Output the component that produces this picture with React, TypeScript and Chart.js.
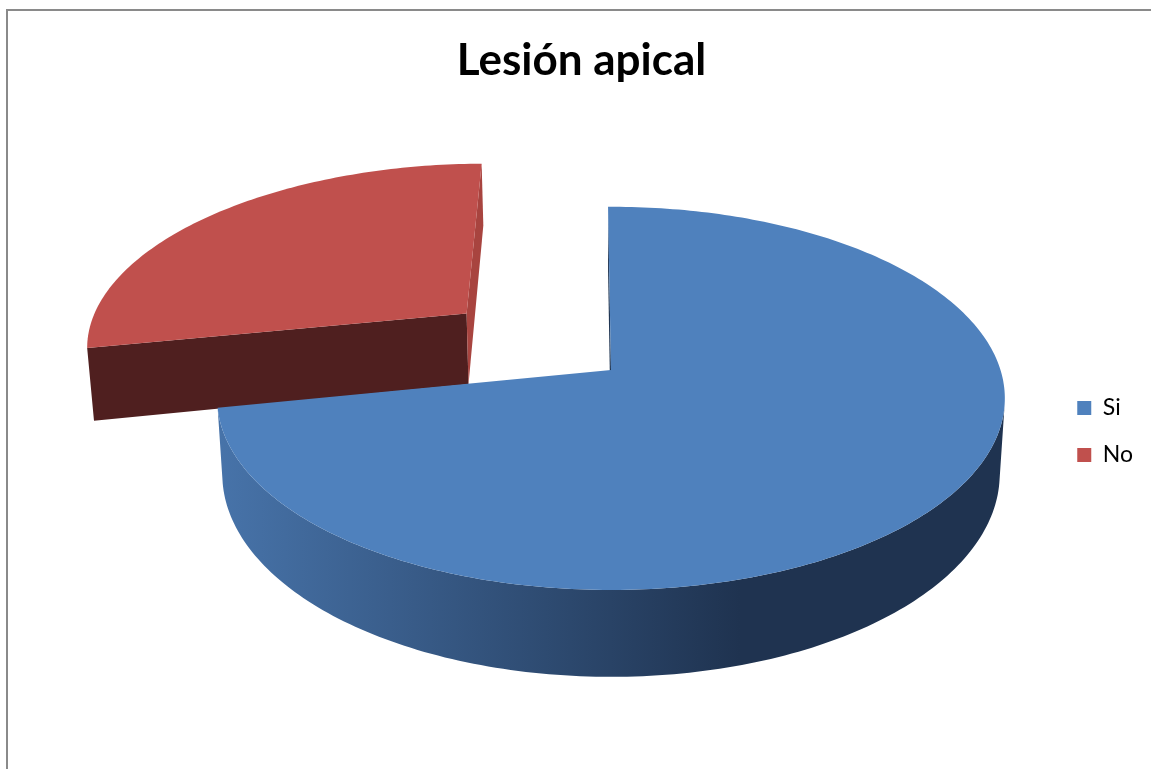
import { useEffect, useRef } from "react";
import { Chart, registerables } from "chart.js";

Chart.register(...registerables);

// Data
const categories = ["Si", "No"];
const counts = [72, 28];
// How far each slice is pulled out from the centre, as a fraction of the radius
const explode = [0, 0.5];
const titleText = "Lesión apical";

// Colours
const faceColors = ["#4f81bd", "#c0504d"];
const sideStops = [
  ["#4773a9", "#1f3350"],
  ["#9a3f3c", "#4f1f1f"],
];
const wallStartColors = ["#1f3552", "#4f1f1f"];
const wallEndColors = ["#1f3552", "#a8443f"];

const FONT = "Lato, 'Open Sans', 'Noto Sans', sans-serif";

// 3-D view of the pie disk: centre, radii, perspective, thickness
const VIEW = {
  cx: 611,
  cy: 370,
  rx: 389.5,
  ry: 187.4,
  persp: 0.148,
  depth: 74,
  taper: 0.013,
  sideX0: 220,
  sideX1: 740,
};

type Pt = [number, number];

// u: right, w: towards the viewer (both in radius units), z: 0 = top, 1 = bottom
function project(u: number, w: number, z: number): Pt {
  const s = 1 / (1 - VIEW.persp * w);
  const x = VIEW.cx + VIEW.rx * u * s * (1 - VIEW.taper * z);
  const y = VIEW.cy + VIEW.ry * w * s + VIEW.depth * z * s;
  return [x, y];
}

function signedArea(pts: Pt[]): number {
  let a = 0;
  for (let i = 0; i < pts.length; i++) {
    const [x1, y1] = pts[i];
    const [x2, y2] = pts[(i + 1) % pts.length];
    a += x1 * y2 - x2 * y1;
  }
  return a / 2;
}

function fillPoly(ctx: CanvasRenderingContext2D, pts: Pt[], style: string | CanvasGradient) {
  ctx.beginPath();
  ctx.moveTo(pts[0][0], pts[0][1]);
  for (let i = 1; i < pts.length; i++) ctx.lineTo(pts[i][0], pts[i][1]);
  ctx.closePath();
  ctx.fillStyle = style;
  ctx.fill();
}

interface Slice {
  i: number;
  a1: number;
  a2: number;
  ox: number;
  ow: number;
}

function drawSlice(ctx: CanvasRenderingContext2D, s: Slice) {
  const { i, a1, a2, ox, ow } = s;
  const rim = (a: number, z: number) => project(ox + Math.cos(a), ow + Math.sin(a), z);
  const ctr = (z: number) => project(ox, ow, z);

  // flat walls along the two straight edges
  const w1: Pt[] = [ctr(0), rim(a1, 0), rim(a1, 1), ctr(1)];
  if (signedArea(w1) < 0) fillPoly(ctx, w1, wallStartColors[i]);
  const w2: Pt[] = [rim(a2, 0), ctr(0), ctr(1), rim(a2, 1)];
  if (signedArea(w2) < 0) fillPoly(ctx, w2, wallEndColors[i]);

  // curved outer wall: only the parts facing the viewer
  const steps = Math.max(8, Math.ceil(((a2 - a1) * 180) / Math.PI));
  const angles: number[] = [];
  for (let k = 0; k <= steps; k++) angles.push(a1 + ((a2 - a1) * k) / steps);
  const grad = ctx.createLinearGradient(VIEW.sideX0, 0, VIEW.sideX1, 0);
  grad.addColorStop(0, sideStops[i][0]);
  grad.addColorStop(1, sideStops[i][1]);
  let run: number[] = [];
  const flush = () => {
    if (run.length >= 2) {
      const pts: Pt[] = [];
      for (const a of run) pts.push(rim(a, 0));
      for (let k = run.length - 1; k >= 0; k--) pts.push(rim(run[k], 1));
      fillPoly(ctx, pts, grad);
    }
    run = [];
  };
  for (let k = 0; k < steps; k++) {
    const a = angles[k];
    const b = angles[k + 1];
    const quad: Pt[] = [rim(a, 0), rim(b, 0), rim(b, 1), rim(a, 1)];
    if (signedArea(quad) < 0) {
      if (run.length === 0) run.push(a);
      run.push(b);
    } else {
      flush();
    }
  }
  flush();

  // top face
  const top: Pt[] = [ctr(0)];
  for (const a of angles) top.push(rim(a, 0));
  fillPoly(ctx, top, faceColors[i]);
}

const pie3d = {
  id: "pie3d",
  beforeDatasetsDraw(chart: Chart) {
    const meta = chart.getDatasetMeta(0);
    const ctx = chart.ctx;
    const slices: Slice[] = [];
    meta.data.forEach((el: any, i: number) => {
      if (!chart.getDataVisibility(i)) return;
      const { startAngle, endAngle } = el.getProps(["startAngle", "endAngle"], true);
      if (endAngle <= startAngle) return;
      const mid = (startAngle + endAngle) / 2;
      const e = explode[i] || 0;
      slices.push({ i, a1: startAngle, a2: endAngle, ox: e * Math.cos(mid), ow: e * Math.sin(mid) });
    });
    // paint from the back of the scene to the front
    slices.sort((p, q) => p.ow - q.ow);
    ctx.save();
    for (const s of slices) drawSlice(ctx, s);
    ctx.restore();
    return false;
  },
};

export default function App() {
  const ref = useRef<HTMLCanvasElement>(null);

  useEffect(() => {
    if (!ref.current) return;
    const chart = new Chart(ref.current, {
      type: "pie",
      data: {
        labels: categories,
        datasets: [
          {
            data: counts,
            backgroundColor: faceColors,
            borderWidth: 0,
          },
        ],
      },
      options: {
        animation: false,
        responsive: true,
        maintainAspectRatio: false,
        rotation: -0.5,
        layout: { padding: { top: 0, right: 8, bottom: 0, left: 20 } },
        plugins: {
          title: {
            display: true,
            text: titleText,
            color: "#000",
            font: { family: FONT, size: 44, weight: "bold" },
            padding: { top: 34, bottom: 7 },
          },
          legend: {
            position: "right",
            fullSize: false,
            labels: {
              color: "#000",
              font: { family: FONT, size: 23 },
              boxWidth: 14,
              boxHeight: 14,
              padding: 24,
            },
          },
          tooltip: { enabled: false },
        },
      },
      plugins: [pie3d],
    });
    return () => chart.destroy();
  }, []);

  return (
    <div
      style={{
        position: "absolute",
        left: 0,
        top: 0,
        width: 1151,
        height: 769,
        overflow: "hidden",
        background: "#fff",
      }}
    >
      <div
        style={{
          position: "absolute",
          left: 6,
          top: 9,
          width: 1200,
          height: 800,
          borderLeft: "2px solid #8a8a8a",
          borderTop: "2px solid #8a8a8a",
        }}
      />
      <div style={{ position: "absolute", left: 0, top: 0, width: 1151, height: 769 }}>
        <canvas ref={ref} />
      </div>
    </div>
  );
}
